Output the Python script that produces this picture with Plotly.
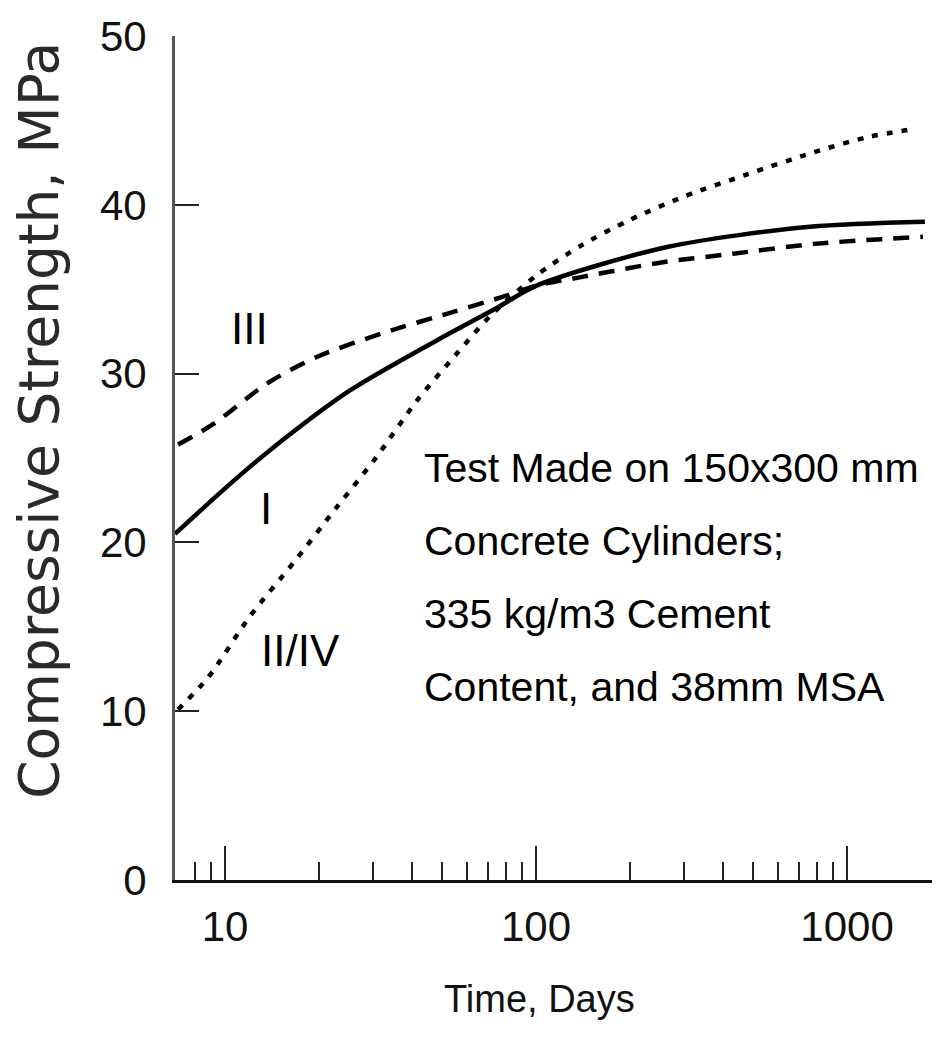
import plotly.graph_objects as go

# ---- data ----
days_I = [6.9, 10.0, 13.6, 25.2, 52.9, 75, 100, 264, 760, 1780]
mpa_I = [20.5, 23.2, 25.3, 29.0, 32.4, 33.9, 35.2, 37.5, 38.7, 39.0]

days_III = [7.06, 9.15, 13.6, 19.8, 32.2, 52.9, 76.6, 100, 138, 256, 430, 801, 1754]
mpa_III = [25.8, 27.0, 29.4, 31.0, 32.4, 33.6, 34.5, 35.2, 35.7, 36.6, 37.1, 37.7, 38.1]

days_IIIV = [7.06, 8.82, 12.0, 16.6, 22.9, 30.8, 41.4, 55.7, 71.1, 100, 140, 200, 300, 477, 778, 1159, 1655]
mpa_IIIV = [10.1, 12.0, 15.6, 18.8, 22.1, 25.1, 28.4, 31.2, 33.4, 35.8, 37.6, 39.1, 40.5, 41.8, 43.1, 44.0, 44.5]

x_major = [10, 100, 1000]
x_major_text = ["10", "100", "1000"]
x_minor = [8, 9, 20, 30, 40, 50, 60, 70, 80, 90, 200, 300, 400, 500, 600, 700, 800, 900]
y_ticks = [0, 10, 20, 30, 40, 50]

note_lines = [
    "Test Made on 150x300 mm",
    "Concrete Cylinders;",
    "335 kg/m3 Cement",
    "Content, and 38mm MSA",
]

FONT = "Liberation Sans, Arial, Helvetica, sans-serif"

fig = go.Figure()
fig.add_trace(go.Scatter(x=days_I, y=mpa_I, mode="lines",
                         line=dict(color="black", width=4.5, shape="spline", smoothing=0.8), name="I"))
fig.add_trace(go.Scatter(x=days_III, y=mpa_III, mode="lines",
                         line=dict(color="black", width=4.5, dash="16px,11px", shape="spline", smoothing=0.8), name="III"))
fig.add_trace(go.Scatter(x=days_IIIV, y=mpa_IIIV, mode="lines",
                         line=dict(color="black", width=4.5, dash="6px,9px", shape="spline", smoothing=0.8), name="II/IV"))

# page body adds an 8px offset, so the figure is sized to end at the window edge
fig.update_layout(
    width=932, height=1035,
    margin=dict(l=167, r=0, t=28, b=163),
    plot_bgcolor="white", paper_bgcolor="white",
    showlegend=False,
    font=dict(family=FONT, color="black"),
)
fig.update_xaxes(
    type="log", range=[0.839, 3.299],
    showgrid=False, zeroline=False,
    showline=True, linecolor="#111", linewidth=3,
    tickmode="array", tickvals=x_major, ticktext=x_major_text,
    ticks="inside", ticklen=34, tickwidth=2, tickcolor="#222",
    tickfont=dict(size=42, family=FONT, color="#111"),
    ticklabelstandoff=8,
    minor=dict(tickmode="array", tickvals=x_minor, ticks="inside", ticklen=18,
               tickwidth=2, tickcolor="#222", showgrid=False),
)
fig.update_yaxes(
    range=[0, 50],
    showgrid=False, zeroline=False,
    showline=True, linecolor="#555", linewidth=3,
    tickmode="array", tickvals=y_ticks,
    ticks="inside", ticklen=24, tickwidth=2, tickcolor="#222",
    tickfont=dict(size=42, family=FONT, color="#111"),
    ticklabelstandoff=17,
)

# axis titles
fig.add_annotation(text="Time, Days", xref="paper", yref="paper", x=0.477, y=-0.141,
                   xanchor="center", yanchor="middle", showarrow=False,
                   font=dict(size=38, family=FONT, color="#111"))
fig.add_annotation(text="Compressive Strength, MPa", textangle=-90,
                   xref="paper", yref="paper", x=-0.178, y=0.545,
                   xanchor="center", yanchor="middle", showarrow=False,
                   font=dict(size=55, family="DejaVu Sans, Verdana, sans-serif", color="#2a2a2a"))

# curve labels
fig.add_annotation(text="III", x=1.080, y=32.7, xref="x", yref="y", showarrow=False,
                   font=dict(size=44, family=FONT))
fig.add_annotation(text="I", x=1.132, y=22.0, xref="x", yref="y", showarrow=False,
                   font=dict(size=44, family=FONT))
fig.add_annotation(text="II/IV", x=1.241, y=13.6, xref="x", yref="y", showarrow=False,
                   font=dict(size=44, family=FONT))

note_y = [24.4, 20.08, 15.76, 11.43]
for txt, yy in zip(note_lines, note_y):
    fig.add_annotation(text=txt, x=1.633, y=yy, xref="x", yref="y", showarrow=False,
                       xanchor="left", yanchor="middle",
                       font=dict(size=41, family=FONT))

fig.write_html("out.html")
